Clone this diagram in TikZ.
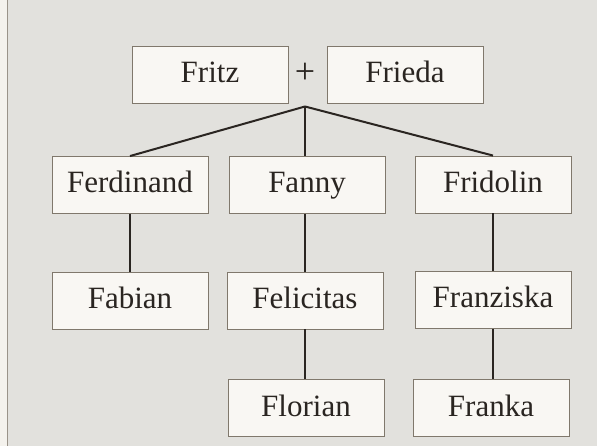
\documentclass[tikz,border=0pt]{standalone}
\usepackage{fontspec}
\setmainfont{Liberation Serif}
\definecolor{paper}{RGB}{226,225,221}
\definecolor{margin}{RGB}{244,242,237}
\definecolor{boxfill}{RGB}{249,247,243}
\definecolor{boxline}{RGB}{128,120,108}
\definecolor{ink}{RGB}{42,37,33}
\tikzset{
  person/.style={draw=boxline, line width=0.9pt, fill=boxfill,
    minimum width=156pt, minimum height=57pt, inner sep=0pt,
    text=ink, font=\fontsize{31}{34}\selectfont,
    text height=21pt, text depth=5pt},
  link/.style={draw=ink, line width=2pt}
}
\begin{document}
\begin{tikzpicture}[x=1pt, y=-1pt]
  % page background with the lighter strip on the left
  \fill[paper] (0,0) rectangle (597,445);
  \fill[margin] (0,0) rectangle (7,445);
  \draw[boxline!80, line width=1pt] (7.5,0) -- (7.5,445);
  \useasboundingbox (0,0) rectangle (597,445);

  % parents
  \node[person] (fritz)  at (210,74.5) {Fritz};
  \node[person] (frieda) at (405,74.5) {Frieda};
  \node[text=ink, inner sep=0pt, font=\fontsize{36}{38}\selectfont] (plus) at (305,73) {+};
  \coordinate (j) at (305,106);

  % children
  \node[person] (ferdinand) at (130,184.5) {Ferdinand};
  \node[person] (fanny)     at (307,184.5) {Fanny};
  \node[person] (fridolin)  at (493,184) {Fridolin};

  % grandchildren
  \node[person] (fabian)    at (130,300) {Fabian};
  \node[person] (felicitas) at (305,300) {Felicitas};
  \node[person] (franziska) at (493,299.5) {Franziska};

  % great-grandchildren
  \node[person] (florian) at (306,407.5) {Florian};
  \node[person] (franka)  at (491,407.5) {Franka};

  % connectors
  \draw[link] (j) -- (ferdinand.north);
  \draw[link] (j) -- (j |- fanny.north);
  \draw[link] (j) -- (fridolin.north);
  \draw[link] (ferdinand.south) -- (fabian.north);
  \draw[link] (j |- fanny.south) -- (j |- felicitas.north);
  \draw[link] (felicitas.south) -- (felicitas.south |- florian.north);
  \draw[link] (fridolin.south) -- (franziska.north);
  \draw[link] (franziska.south) -- (franziska.south |- franka.north);
\end{tikzpicture}
\end{document}
